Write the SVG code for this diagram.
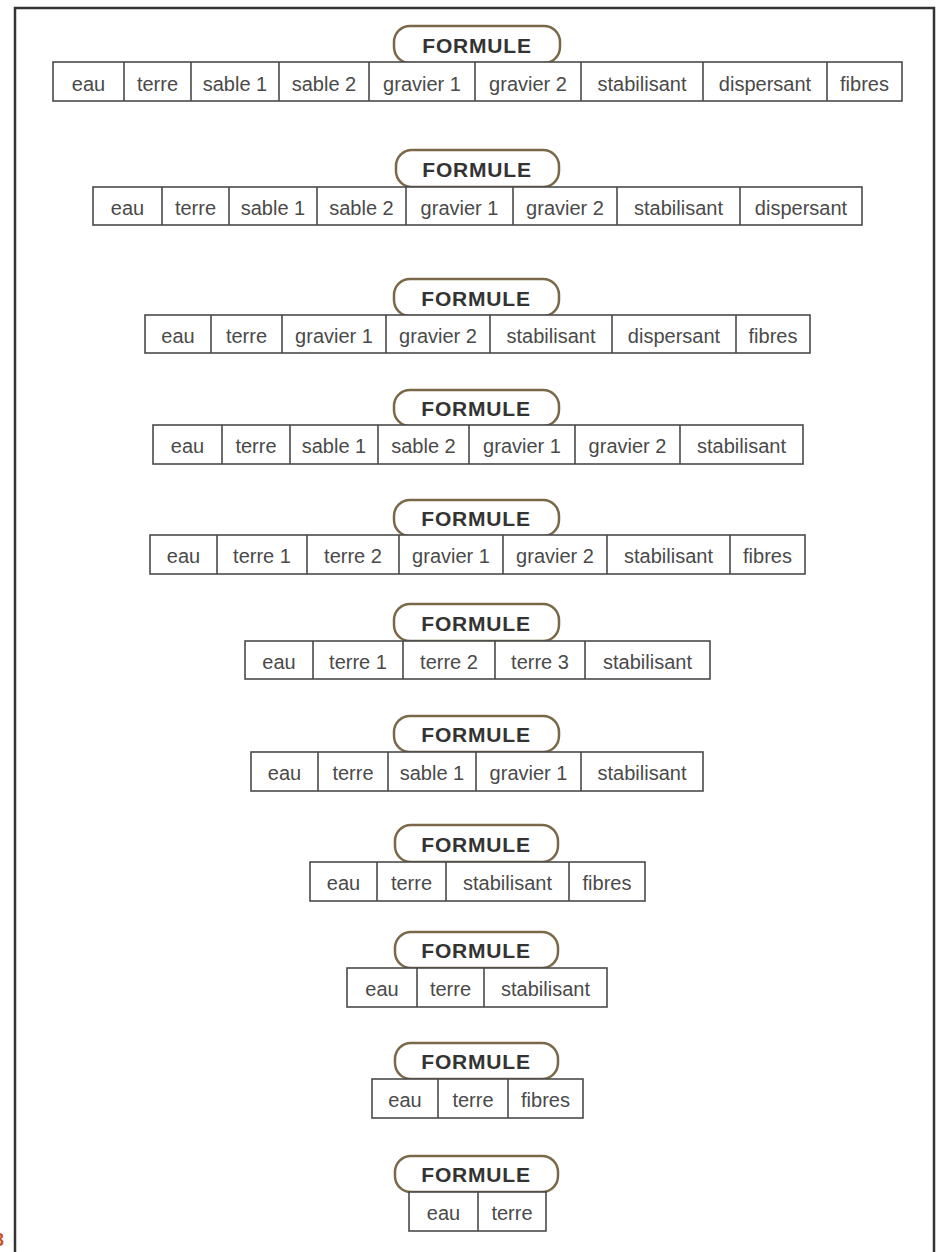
<svg xmlns="http://www.w3.org/2000/svg" width="937" height="1252" viewBox="0 0 937 1252">
<style>
.frame{fill:none;stroke:#333;stroke-width:2.5}
.pill{fill:#fff;stroke:#7a6848;stroke-width:2.5}
.pt{font-family:"Liberation Sans",Arial,sans-serif;font-weight:bold;font-size:21px;letter-spacing:0.8px;fill:#333;text-anchor:middle}
.tb{fill:#fff;stroke:#4a4a4a;stroke-width:1.6}
.dv{stroke:#4a4a4a;stroke-width:1.6}
.ct{font-family:"Liberation Sans",Arial,sans-serif;font-size:20px;fill:#4a4a4a;text-anchor:middle}
.num{font-family:"Liberation Sans",Arial,sans-serif;font-weight:bold;font-size:18px;fill:#c8501e;text-anchor:end}
</style>
<rect class="frame" x="15" y="8" width="919" height="1260"/>
<text class="num" x="4" y="1246">3</text>

<g id="f1">
<rect class="pill" x="394" y="26" width="166" height="37" rx="16"/>
<text class="pt" x="477" y="53">FORMULE</text>
<rect class="tb" x="53" y="62" width="849" height="39"/>
<path class="dv" d="M124 62V101M191 62V101M279 62V101M369 62V101M475 62V101M581 62V101M703 62V101M827 62V101"/>
<text class="ct" y="91"><tspan x="88.5">eau</tspan><tspan x="157.5">terre</tspan><tspan x="235">sable 1</tspan><tspan x="324">sable 2</tspan><tspan x="422">gravier 1</tspan><tspan x="528">gravier 2</tspan><tspan x="642">stabilisant</tspan><tspan x="765">dispersant</tspan><tspan x="864.5">fibres</tspan></text>
</g>

<g id="f2">
<rect class="pill" x="396" y="150" width="163" height="37" rx="16"/>
<text class="pt" x="477" y="177">FORMULE</text>
<rect class="tb" x="93" y="187" width="769" height="38"/>
<path class="dv" d="M162 187V225M229 187V225M317 187V225M406 187V225M513 187V225M617 187V225M740 187V225"/>
<text class="ct" y="215"><tspan x="127.5">eau</tspan><tspan x="195.5">terre</tspan><tspan x="273">sable 1</tspan><tspan x="361.5">sable 2</tspan><tspan x="459.5">gravier 1</tspan><tspan x="565">gravier 2</tspan><tspan x="678.5">stabilisant</tspan><tspan x="801">dispersant</tspan></text>
</g>

<g id="f3">
<rect class="pill" x="394" y="279" width="165" height="37" rx="16"/>
<text class="pt" x="476" y="306">FORMULE</text>
<rect class="tb" x="145" y="315" width="665" height="38"/>
<path class="dv" d="M211 315V353M282 315V353M386 315V353M490 315V353M612 315V353M736 315V353"/>
<text class="ct" y="343"><tspan x="178">eau</tspan><tspan x="246.5">terre</tspan><tspan x="334">gravier 1</tspan><tspan x="438">gravier 2</tspan><tspan x="551">stabilisant</tspan><tspan x="674">dispersant</tspan><tspan x="773">fibres</tspan></text>
</g>

<g id="f4">
<rect class="pill" x="394" y="390" width="165" height="36" rx="16"/>
<text class="pt" x="476" y="416">FORMULE</text>
<rect class="tb" x="153" y="425" width="650" height="39"/>
<path class="dv" d="M222 425V464M290 425V464M378 425V464M469 425V464M575 425V464M680 425V464"/>
<text class="ct" y="453"><tspan x="187.5">eau</tspan><tspan x="256">terre</tspan><tspan x="334">sable 1</tspan><tspan x="423.5">sable 2</tspan><tspan x="522">gravier 1</tspan><tspan x="627.5">gravier 2</tspan><tspan x="741.5">stabilisant</tspan></text>
</g>

<g id="f5">
<rect class="pill" x="394" y="500" width="165" height="36" rx="16"/>
<text class="pt" x="476" y="526">FORMULE</text>
<rect class="tb" x="150" y="535" width="655" height="39"/>
<path class="dv" d="M217 535V574M307 535V574M399 535V574M503 535V574M607 535V574M730 535V574"/>
<text class="ct" y="563"><tspan x="183.5">eau</tspan><tspan x="262">terre 1</tspan><tspan x="353">terre 2</tspan><tspan x="451">gravier 1</tspan><tspan x="555">gravier 2</tspan><tspan x="668.5">stabilisant</tspan><tspan x="767.5">fibres</tspan></text>
</g>

<g id="f6">
<rect class="pill" x="394" y="604" width="165" height="37" rx="16"/>
<text class="pt" x="476" y="631">FORMULE</text>
<rect class="tb" x="245" y="641" width="465" height="38"/>
<path class="dv" d="M313 641V679M403 641V679M495 641V679M585 641V679"/>
<text class="ct" y="669"><tspan x="279">eau</tspan><tspan x="358">terre 1</tspan><tspan x="449">terre 2</tspan><tspan x="540">terre 3</tspan><tspan x="647.5">stabilisant</tspan></text>
</g>

<g id="f7">
<rect class="pill" x="394" y="716" width="165" height="36" rx="16"/>
<text class="pt" x="476" y="742">FORMULE</text>
<rect class="tb" x="251" y="752" width="452" height="39"/>
<path class="dv" d="M318 752V791M388 752V791M476 752V791M581 752V791"/>
<text class="ct" y="780"><tspan x="284.5">eau</tspan><tspan x="353">terre</tspan><tspan x="432">sable 1</tspan><tspan x="528.5">gravier 1</tspan><tspan x="642">stabilisant</tspan></text>
</g>

<g id="f8">
<rect class="pill" x="395" y="825" width="163" height="37" rx="16"/>
<text class="pt" x="476" y="852">FORMULE</text>
<rect class="tb" x="310" y="862" width="335" height="39"/>
<path class="dv" d="M377 862V901M446 862V901M569 862V901"/>
<text class="ct" y="890"><tspan x="343.5">eau</tspan><tspan x="411.5">terre</tspan><tspan x="507.5">stabilisant</tspan><tspan x="607">fibres</tspan></text>
</g>

<g id="f9">
<rect class="pill" x="395" y="932" width="163" height="36" rx="16"/>
<text class="pt" x="476" y="958">FORMULE</text>
<rect class="tb" x="347" y="968" width="260" height="39"/>
<path class="dv" d="M417 968V1007M484 968V1007"/>
<text class="ct" y="996"><tspan x="382">eau</tspan><tspan x="450.5">terre</tspan><tspan x="545.5">stabilisant</tspan></text>
</g>

<g id="f10">
<rect class="pill" x="395" y="1043" width="163" height="36" rx="16"/>
<text class="pt" x="476" y="1069">FORMULE</text>
<rect class="tb" x="372" y="1079" width="211" height="39"/>
<path class="dv" d="M438 1079V1118M508 1079V1118"/>
<text class="ct" y="1107"><tspan x="405">eau</tspan><tspan x="473">terre</tspan><tspan x="545.5">fibres</tspan></text>
</g>

<g id="f11">
<rect class="pill" x="395" y="1156" width="163" height="36" rx="16"/>
<text class="pt" x="476" y="1182">FORMULE</text>
<rect class="tb" x="409" y="1192" width="137" height="39"/>
<path class="dv" d="M478 1192V1231"/>
<text class="ct" y="1220"><tspan x="443.5">eau</tspan><tspan x="512">terre</tspan></text>
</g>
</svg>
